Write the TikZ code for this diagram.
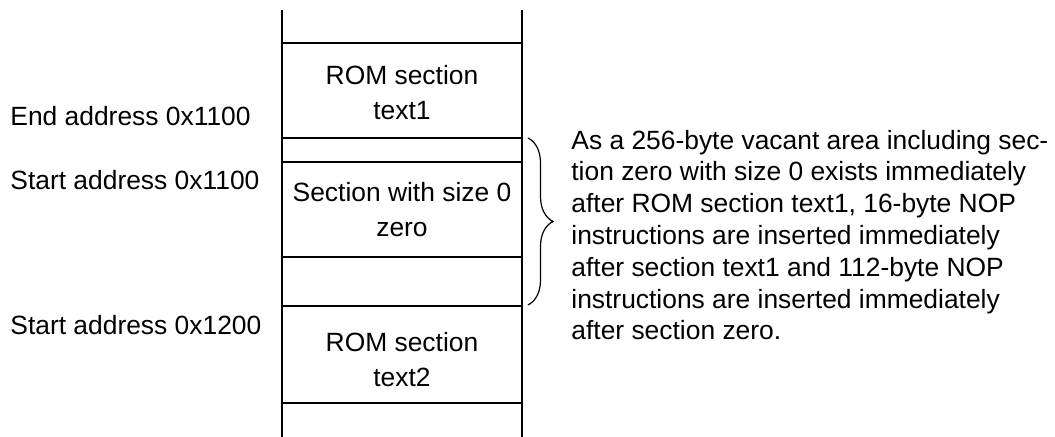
\documentclass[tikz,border=0pt]{standalone}
\usepackage{fontspec}
\setmainfont{Liberation Sans}
\usetikzlibrary{decorations.pathreplacing}
\begin{document}
\begin{tikzpicture}[x=0.5pt,y=-0.5pt,
  wall/.style={line width=1pt},
  lbl/.style={inner sep=0pt,font=\fontsize{13.2}{15.9}\selectfont},
  boxtxt/.style={lbl,align=center,anchor=base,font=\fontsize{13.2}{17.75}\selectfont},
  note/.style={lbl,align=left,anchor=base west}]
\useasboundingbox (0,0) rectangle (1055,437);
% column
\draw[wall] (282,10) -- (282,437);
\draw[wall] (522,10) -- (522,437);
\foreach \yy in {43,138,162.5,257,306.5,403}
  \draw[wall] (282,\yy) -- (522,\yy);
% box texts (base = last line's baseline)
\node[boxtxt] (t1) at (402,120) {ROM section\\text1};
\node[boxtxt] (z) at (402,237) {Section with size 0\\zero};
\node[boxtxt] (t2) at (402,386.7) {ROM section\\text2};
% left labels
\node[lbl,anchor=base west] (e1) at (10,126) {End address 0x1100};
\node[lbl,anchor=base west] (s1) at (10,190) {Start address 0x1100};
\node[lbl,anchor=base west] (s2) at (10,335) {Start address 0x1200};
% brace
\coordinate (bt) at (528,138);
\coordinate (bb) at (528,305);
\draw[line width=0.6pt,decorate,decoration={brace,amplitude=12.5pt}] (bt) -- (bb);
% note
\node[note] (n) at (571,340) {As a 256-byte vacant area including sec-\\tion zero with size 0 exists immediately\\after ROM section text1, 16-byte NOP\\instructions are inserted immediately\\after section text1 and 112-byte NOP\\instructions are inserted immediately\\after section zero.};
\end{tikzpicture}
\end{document}
